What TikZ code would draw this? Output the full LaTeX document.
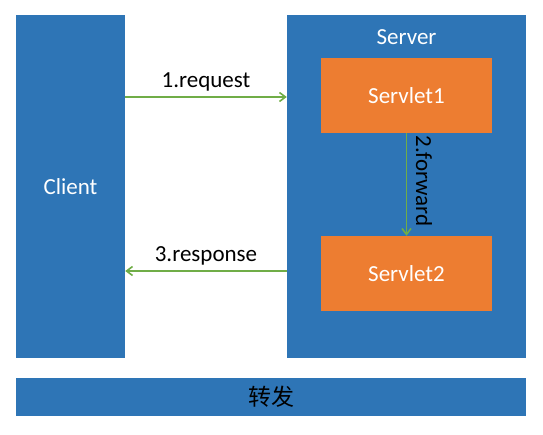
\documentclass[tikz,border=0pt]{standalone}
\usepackage{fontspec}
\setmainfont{Carlito}
\newfontfamily\cjk{Noto Sans CJK SC}
\usetikzlibrary{arrows.meta}
\definecolor{boxblue}{HTML}{2E75B6}
\definecolor{boxorange}{HTML}{ED7D31}
\definecolor{flowgreen}{HTML}{70AD47}
\begin{document}
\begin{tikzpicture}[x=1pt,y=-1pt,
    every node/.style={font=\fontsize{23}{27}\selectfont},
    bluebox/.style={fill=boxblue,draw=none,text=white},
    servletbox/.style={fill=boxorange,draw=none,text=white,minimum width=171pt,minimum height=75pt},
    flow/.style={draw=flowgreen,line width=1.6pt,-{Straight Barb[length=6pt,width=9pt]}}]
  \useasboundingbox (0,0) rectangle (543,435);
  % containers
  \node[bluebox,minimum width=109pt,minimum height=343pt] (client) at (70.5,186.5) {Client};
  \node[bluebox,minimum width=239pt,minimum height=343pt] (server) at (406.5,186.5) {};
  \node[text=white] (servername) at (406.5,37) {Server};
  \node[servletbox] (s1) at (406.5,95.5) {Servlet1};
  \node[servletbox] (s2) at (406.5,273.5) {Servlet2};
  \node[bluebox,minimum width=510pt,minimum height=38pt,text=black] (bar) at (271,397) {\cjk 转发};
  % flows
  \coordinate (rq) at (0,97);
  \coordinate (rs) at (0,271);
  \draw[flow] (client.east |- rq) -- node[above=2pt,text=black]{1.request} (server.west |- rq);
  \draw[flow] (server.west |- rs) -- node[above=2pt,text=black]{3.response} (client.east |- rs);
  \draw[flow] (s1) -- (s2);
  \node[rotate=-90,anchor=base,text=black] (fwdlabel) at (416,181) {2.forward};
\end{tikzpicture}
\end{document}
